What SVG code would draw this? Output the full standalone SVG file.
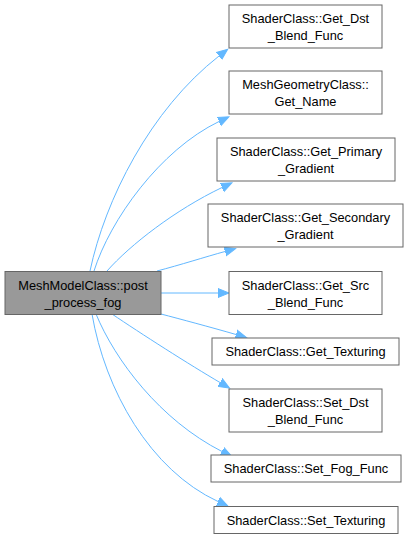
<svg xmlns="http://www.w3.org/2000/svg" width="408" height="539" viewBox="0 0 408 539">
<style>
.node rect{fill:#ffffff;stroke:#666666;stroke-width:1}
.node.main rect{fill:#999999}
.node text{font-family:"Liberation Sans",Arial,sans-serif;font-size:12.8px;fill:#000000;text-anchor:middle}
.edge{fill:none;stroke:#63b8ff;stroke-width:1;marker-end:url(#arr)}
</style>
<defs>
<marker id="arr" markerUnits="userSpaceOnUse" markerWidth="14" markerHeight="12" refX="0" refY="0" viewBox="0 -6 14 12" orient="auto">
<path d="M0,-4.5 L11,0 L0,4.5 z" fill="#63b8ff" stroke="#63b8ff" stroke-width="1"/>
</marker>
</defs>
<rect width="408" height="539" fill="#ffffff"/>
<g id="connectors">
<path class="edge" d="M90,271 C105,200 150,110 219,56"/>
<path class="edge" d="M94,271 C110,220 160,150 219,121.5"/>
<path class="edge" d="M107,271 C130,245 175,210 222,187.5"/>
<path class="edge" d="M157,271 C180,265 205,257 225,251.5"/>
<path class="edge" d="M161,293 L218,293"/>
<path class="edge" d="M161,314 C180,319 210,327 236,334.5"/>
<path class="edge" d="M112,314 C140,333 190,365 220,382.5"/>
<path class="edge" d="M96,314 C115,360 160,420 222,451.5"/>
<path class="edge" d="M92,314 C105,390 150,470 218,501.5"/>
</g>
<g id="node0" class="node main">
<rect x="5" y="271.5" width="156" height="43"/>
<text x="83" y="289.5">MeshModelClass::post</text>
<text x="83" y="306.5">_process_fog</text>
</g>
<g id="node1" class="node">
<rect x="229" y="5" width="153" height="43"/>
<text x="305.5" y="22.5">ShaderClass::Get_Dst</text>
<text x="305.5" y="39.5">_Blend_Func</text>
</g>
<g id="node2" class="node">
<rect x="229" y="71" width="153" height="43"/>
<text x="305.5" y="88.5">MeshGeometryClass::</text>
<text x="305.5" y="105.5">Get_Name</text>
</g>
<g id="node3" class="node">
<rect x="217" y="138" width="178" height="43"/>
<text x="306" y="155.5">ShaderClass::Get_Primary</text>
<text x="306" y="172.5">_Gradient</text>
</g>
<g id="node4" class="node">
<rect x="208" y="204" width="195" height="43"/>
<text x="305.5" y="221.5">ShaderClass::Get_Secondary</text>
<text x="305.5" y="238.5">_Gradient</text>
</g>
<g id="node5" class="node">
<rect x="229" y="271.5" width="153" height="43"/>
<text x="305.5" y="289.5">ShaderClass::Get_Src</text>
<text x="305.5" y="306.5">_Blend_Func</text>
</g>
<g id="node6" class="node">
<rect x="212" y="338" width="187" height="27"/>
<text x="305.5" y="356">ShaderClass::Get_Texturing</text>
</g>
<g id="node7" class="node">
<rect x="229" y="389" width="153" height="43"/>
<text x="305.5" y="406.5">ShaderClass::Set_Dst</text>
<text x="305.5" y="423.5">_Blend_Func</text>
</g>
<g id="node8" class="node">
<rect x="211" y="455" width="190" height="27"/>
<text x="306" y="473">ShaderClass::Set_Fog_Func</text>
</g>
<g id="node9" class="node">
<rect x="214" y="506.5" width="184" height="27"/>
<text x="306" y="524.5">ShaderClass::Set_Texturing</text>
</g>
</svg>
